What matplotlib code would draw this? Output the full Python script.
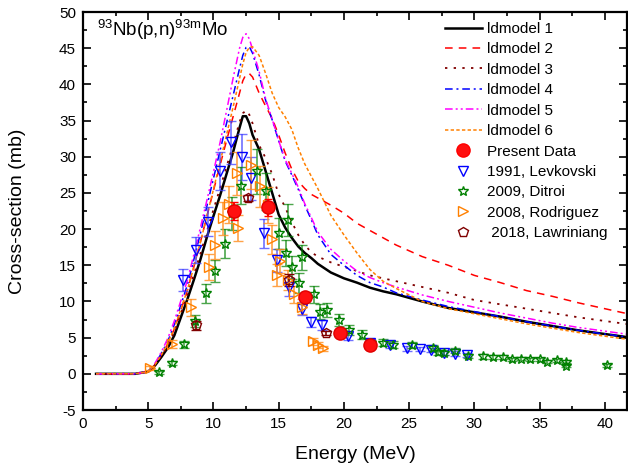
import matplotlib
matplotlib.use("Agg")
import matplotlib.pyplot as plt
from matplotlib.lines import Line2D
from matplotlib.ticker import MultipleLocator

plt.rcParams['font.family'] = ['Liberation Sans', 'DejaVu Sans']
plt.rcParams['mathtext.default'] = 'regular'
plt.rcParams['axes.unicode_minus'] = False

# shared energy grid for the model curves (MeV)
energy = [1, 4, 5, 5.5, 6, 6.5, 7, 7.5, 8, 8.5, 9, 9.5, 10, 10.5, 11, 11.5, 12, 12.25,
          12.5, 12.75, 13, 13.5, 14, 14.5, 15, 15.5, 16, 16.5, 17, 17.5, 18, 19, 20, 21,
          22, 23, 24, 26, 28, 30, 32, 34, 36, 38, 40, 42]

ld1 = [0, 0, 0.3, 1.1, 2.3, 3.6, 5.3, 7.8, 10.3, 13.0, 15.8, 18.9, 21.8, 24.6, 27.6, 30.6,
       34.0, 35.6, 35.6, 34.6, 33.0, 31.0, 28.0, 25.0, 22.0, 20.2, 18.8, 17.6, 16.7, 16.0,
       15.2, 14.0, 13.2, 12.6, 11.9, 11.4, 11.0, 10.0, 9.1, 8.5, 7.9, 7.2, 6.6, 6.0, 5.5, 5.0]
ld2 = [0, 0, 0.3, 1.2, 2.6, 4.1, 6.2, 8.8, 11.5, 14.8, 18.2, 21.8, 25.3, 28.8, 32.2, 35.5,
       38.8, 40.5, 41.4, 41.5, 41.0, 38.8, 37.0, 35.3, 33.0, 30.5, 28.3, 26.6, 25.6, 24.8,
       24.3, 23.3, 22.2, 20.8, 19.8, 18.8, 17.8, 16.2, 15.0, 13.6, 12.6, 11.5, 10.7, 9.8, 9.0, 8.2]
ld3 = [0, 0, 0.3, 1.2, 2.5, 3.9, 5.8, 8.3, 10.9, 13.7, 16.6, 19.7, 22.7, 25.6, 28.6, 31.6,
       34.8, 36.0, 36.4, 35.8, 34.6, 31.6, 29.8, 27.6, 24.8, 23.0, 21.0, 19.2, 17.8, 16.8,
       16.2, 15.4, 14.8, 14.2, 13.6, 13.2, 12.8, 12.0, 11.2, 10.2, 9.6, 9.0, 8.4, 7.8, 7.3, 6.8]
ld4 = [0, 0, 0.3, 1.3, 2.8, 4.5, 6.8, 9.5, 12.3, 15.8, 19.4, 23.2, 27.0, 30.8, 34.6, 38.4,
       42.2, 44.0, 45.1, 45.2, 44.3, 41.3, 37.8, 35.1, 32.2, 29.4, 27.5, 25.5, 23.3, 21.3,
       19.2, 16.5, 15.0, 13.6, 12.6, 12.0, 11.2, 10.2, 9.3, 8.6, 7.9, 7.2, 6.6, 6.0, 5.5, 5.0]
ld5 = [0, 0, 0.3, 1.4, 3.0, 4.9, 7.3, 10.1, 12.9, 16.5, 20.2, 24.0, 27.9, 31.9, 36.3, 40.8,
       45.0, 46.5, 47.0, 46.3, 44.8, 41.8, 38.0, 35.2, 32.2, 29.6, 27.7, 25.8, 23.5, 21.6,
       19.6, 17.2, 15.6, 14.2, 13.3, 12.6, 12.0, 10.9, 10.0, 9.2, 8.4, 7.7, 7.0, 6.4, 5.9, 5.4]
ld6 = [0, 0, 0.3, 1.2, 2.6, 4.2, 6.3, 8.9, 11.6, 14.8, 18.2, 21.8, 25.5, 29.2, 33.0, 36.8,
       40.8, 42.8, 44.4, 45.1, 45.2, 44.0, 41.5, 38.8, 36.8, 35.5, 33.8, 31.2, 29.0, 27.3,
       25.6, 21.9, 19.2, 16.7, 14.4, 12.8, 11.8, 10.0, 9.0, 8.3, 7.6, 6.9, 6.3, 5.7, 5.2, 4.7]

# experimental data
present_e = [11.6, 14.2, 17.0, 19.7, 22.0]
present_xs = [22.5, 23.0, 10.6, 5.7, 4.0]
present_err = [1.2, 1.2, 0.6, 0.3, 0.2]

levk_e = [7.7, 8.7, 9.6, 10.5, 11.35, 12.15, 12.85, 13.9, 14.85, 15.8, 16.75, 17.5, 18.3,
          20.3, 22.0, 23.5, 24.8, 25.8, 26.7, 27.7, 28.5, 29.4]
levk_xs = [13.0, 17.1, 21.0, 28.0, 32.0, 30.0, 27.0, 19.4, 15.7, 12.0, 9.0, 7.2, 6.8,
           5.2, 4.3, 4.0, 3.5, 3.4, 3.3, 2.9, 2.8, 2.6]
levk_err = [1.5, 1.8, 2.0, 2.6, 3.0, 3.2, 3.0, 2.0, 1.6, 1.2, 0.9, 0.7, 0.7,
            0.5, 0.4, 0.4, 0.35, 0.3, 0.3, 0.3, 0.3, 0.3]

ditroi_e = [5.8, 6.8, 7.76, 8.6, 9.4, 10.15, 10.85, 11.45, 12.1, 13.35, 14.0, 15.05, 15.7,
            15.55, 16.05, 16.75, 16.55, 17.7, 18.2, 18.7, 19.6, 20.4, 21.4, 22.1, 23.0, 23.8,
            25.2, 26.8, 27.2, 27.7, 28.5, 29.5, 30.7, 31.4, 32.2, 32.9, 33.6, 34.3, 35.0, 35.6,
            36.3, 37.0, 37.0, 40.2]
ditroi_xs = [0.2, 1.5, 4.1, 7.3, 11.1, 14.2, 18.0, 22.2, 26.0, 28.0, 25.2, 19.4, 21.2,
             16.7, 14.7, 16.1, 12.5, 11.0, 8.6, 8.8, 7.4, 6.1, 5.4, 4.2, 4.3, 4.0,
             4.0, 3.6, 2.95, 2.9, 3.2, 2.5, 2.4, 2.3, 2.3, 2.0, 2.1, 2.0, 2.0, 1.7,
             1.85, 1.7, 1.1, 1.15]
ditroi_err = [0.2, 0.3, 0.5, 0.8, 1.3, 1.5, 2.0, 2.3, 2.6, 3.1, 2.6, 2.1, 2.2,
              1.8, 1.6, 1.7, 1.4, 1.2, 1.0, 1.0, 0.8, 0.7, 0.6, 0.5, 0.5, 0.5,
              0.4, 0.4, 0.35, 0.35, 0.35, 0.3, 0.3, 0.3, 0.3, 0.25, 0.25, 0.25, 0.25, 0.2,
              0.2, 0.2, 0.2, 0.2]

rodr_e = [5.1, 6.8, 8.3, 9.65, 10.1, 10.75, 11.2, 11.8, 11.85, 12.9, 13.6, 14.2, 14.5,
          15.1, 14.85, 15.7, 16.2, 16.75, 17.6, 18.0, 18.4]
rodr_xs = [0.8, 4.1, 9.2, 14.8, 17.8, 21.5, 23.4, 27.7, 20.1, 28.9, 25.9, 23.3, 18.6,
           15.6, 13.7, 13.0, 11.0, 9.3, 4.5, 4.0, 3.5]
rodr_err = [0.3, 0.6, 1.2, 1.8, 2.0, 2.3, 2.5, 3.0, 1.8, 3.4, 2.8, 2.5, 2.0,
            1.7, 1.5, 1.4, 1.2, 1.0, 0.5, 0.4, 0.4]

lawr_e = [8.65, 12.65, 15.8, 18.6]
lawr_xs = [6.7, 24.3, 13.0, 5.6]
lawr_err = [0.6, 0.4, 0.8, 0.3]

fig = plt.figure(figsize=(6.28, 4.72), dpi=100)
ax = fig.add_axes([83 / 628, 62 / 472, 544 / 628, 398 / 472])

l1, = ax.plot(energy, ld1, color='black', lw=1.8, label='ldmodel 1')
l2, = ax.plot(energy, ld2, color='#FF0000', lw=1.1, dashes=(5, 4), label='ldmodel 2')
l3, = ax.plot(energy, ld3, color='#800000', lw=1.3, dashes=(1.3, 3.5), label='ldmodel 3')
l4, = ax.plot(energy, ld4, color='#0000FF', lw=1.1, dashes=(5, 2.5, 1.3, 2.5), label='ldmodel 4')
l5, = ax.plot(energy, ld5, color='#FF00FF', lw=1.1, dashes=(5, 2, 1.3, 2, 1.3, 2), label='ldmodel 5')
l6, = ax.plot(energy, ld6, color='#FF8000', lw=1.1, dashes=(2.2, 1.5), label='ldmodel 6')

eb = dict(ls='none', capsize=3.5, elinewidth=1.2, capthick=1.2, ms=7, mew=1.0, mfc='none')
ax.errorbar(levk_e, levk_xs, yerr=levk_err, marker='v', color='#0000FF',
            ecolor=(0.25, 0.25, 1.0, 0.75), **eb)
ax.errorbar(ditroi_e, ditroi_xs, yerr=ditroi_err, marker='*', color='#008000',
            ecolor=(0.0, 0.5, 0.0, 0.7), **eb)
ax.errorbar(rodr_e, rodr_xs, yerr=rodr_err, marker='>', color='#FF8000',
            ecolor=(1.0, 0.55, 0.1, 0.8), **eb)
ax.errorbar(lawr_e, lawr_xs, yerr=lawr_err, marker='p', color='#800000', **eb)
ax.errorbar(present_e, present_xs, yerr=present_err, marker='o', color='#FF0000',
            mfc='#FF1010', mec='#E00000', ls='none', capsize=3, ms=9.5, zorder=5)

ax.set_xlim(0, 41.7)
ax.set_ylim(-5, 50)
ax.xaxis.set_major_locator(MultipleLocator(5))
ax.xaxis.set_minor_locator(MultipleLocator(2.5))
ax.yaxis.set_major_locator(MultipleLocator(5))
ax.yaxis.set_minor_locator(MultipleLocator(2.5))
ax.tick_params(which='both', direction='in', top=True, right=True, labelsize=11, width=1.2)
ax.tick_params(which='major', length=6, pad=5)
ax.tick_params(which='minor', length=3)
for s in ax.spines.values():
    s.set_linewidth(1.6)

ax.set_xlabel('Energy (MeV)', fontsize=14, labelpad=11)
ax.set_ylabel('Cross-section (mb)', fontsize=14, labelpad=24)
ax.text(0.025, 0.985, r'$^{93}$Nb(p,n)$^{93m}$Mo', transform=ax.transAxes,
        fontsize=13.5, va='top', ha='left')

# legend: lines for models, bare markers for data sets
mk = dict(ls='none', mfc='none', ms=7, mew=1.0)
handles = [l1, l2, l3, l4, l5, l6,
           Line2D([], [], marker='o', color='#FF0000', mfc='#FF1010', ls='none', ms=9.5, label='Present Data'),
           Line2D([], [], marker='v', color='#0000FF', label='1991, Levkovski', **mk),
           Line2D([], [], marker='*', color='#008000', label='2009, Ditroi', **mk),
           Line2D([], [], marker='>', color='#FF8000', label='2008, Rodriguez', **mk),
           Line2D([], [], marker='p', color='#800000', label=' 2018, Lawriniang', **mk)]
fig.legend(handles=handles, loc='upper left', bbox_to_anchor=(445 / 628, 1 - 22 / 472),
           frameon=False, fontsize=11, handlelength=2.4, handletextpad=0.35,
           labelspacing=0.42, borderpad=0, borderaxespad=0)

fig.savefig('out.png', dpi=100)
